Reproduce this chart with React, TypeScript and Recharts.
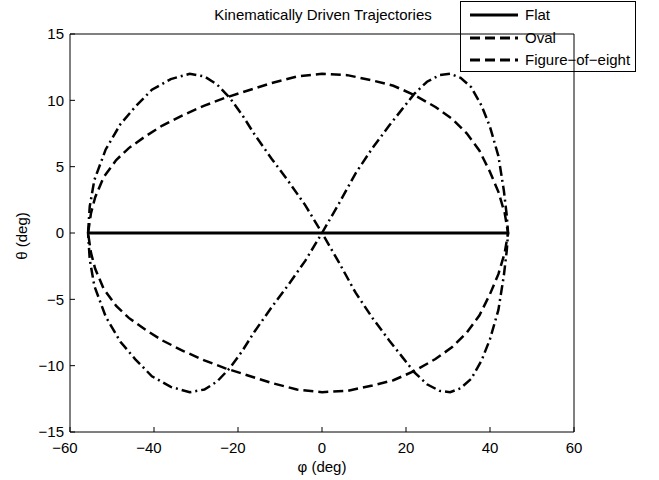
import React from 'react';
import { LineChart, Line, XAxis, YAxis, Label } from 'recharts';

const flatPhi = [-55.7, 44.3];
const flatTheta = [0, 0];

const ovalPhi = [
  -55.7, -55, -54, -52, -49, -46, -42, -38, -33, -28, -23, -18, -12, -6, 0, 6, 12, 17, 22, 27, 31, 34.5, 37.5, 40, 42, 43.5, 44.3,
  43.5, 42, 40, 37.5, 34.5, 31, 27, 22, 17, 12, 6, 0, -6, -12, -18, -23, -28, -33, -38, -42, -46, -49, -52, -54, -55, -55.7,
];
const ovalTheta = [
  0, 1.5, 2.7, 4.2, 5.5, 6.4, 7.3, 8.1, 8.9, 9.6, 10.2, 10.7, 11.3, 11.8, 12, 11.9, 11.5, 11.1, 10.4, 9.5, 8.6, 7.5, 6.2, 4.6, 3.1, 1.5, 0,
  -1.5, -3.1, -4.6, -6.2, -7.5, -8.6, -9.5, -10.4, -11.1, -11.5, -11.9, -12, -11.8, -11.3, -10.7, -10.2, -9.6, -8.9, -8.1, -7.3, -6.4, -5.5, -4.2, -2.7, -1.5, 0,
];

const eightPhi = [
  -55.7, -55.3, -54.2, -51.5, -48, -44.5, -40.5, -36, -31.5,
  -28, -25, -22, -19, -16, -12, -8, -4, 0, 4, 8, 12, 16, 19, 22, 25, 28, 30.5,
  33, 35.5, 38, 40, 42, 43.3, 44, 44.3,
  44, 43.3, 42, 40, 38, 35.5, 33, 30.5,
  28, 25, 22, 19, 16, 12, 8, 4, 0, -4, -8, -12, -16, -19, -22, -25, -28, -31.5,
  -36, -40.5, -44.5, -48, -51.5, -54.2, -55.3, -55.7,
];
const eightTheta = [
  0, 2, 4, 6.3, 8.2, 9.5, 10.8, 11.6, 12,
  11.8, 11.2, 10.2, 8.9, 7.4, 5.6, 3.9, 2.1, 0, -2.2, -4.5, -6.4, -8.1, -9.3, -10.5, -11.4, -11.9, -12,
  -11.7, -11, -9.6, -8, -5.8, -3.2, -1.3, 0,
  1.3, 3.2, 5.8, 8, 9.6, 11, 11.7, 12,
  11.9, 11.4, 10.5, 9.3, 8.1, 6.4, 4.5, 2.2, 0, -2.1, -3.9, -5.6, -7.4, -8.9, -10.2, -11.2, -11.8, -12,
  -11.6, -10.8, -9.5, -8.2, -6.3, -4, -2, 0,
];

const xTicks = [-60, -40, -20, 0, 20, 40, 60];
const yTicks = [-15, -10, -5, 0, 5, 10, 15];
const seriesNames = ['Flat', 'Oval', 'Figure\u2212of\u2212eight'];
const titleText = 'Kinematically Driven Trajectories';
const xLabelText = '\u03c6 (deg)';
const yLabelText = '\u03b8 (deg)';

const zip = (p: number[], t: number[]) => p.map((x, i) => ({ x, y: t[i] }));
const flatData = zip(flatPhi, flatTheta);
const ovalData = zip(ovalPhi, ovalTheta);
const eightData = zip(eightPhi, eightTheta);

const FONT = '"Liberation Sans", Arial, Helvetica, sans-serif';
const FS = 15;
const fmt = (v: number) => String(v).replace('-', '\u2212');

const XTick = (props: any) => {
  const { x, y, payload } = props;
  const v = payload.value as number;
  return (
    <text x={x + (v < 0 ? -5 : 0)} y={y} dy="0.71em" textAnchor="middle" fontSize={FS} fontFamily={FONT} fill="#000">
      {fmt(v)}
    </text>
  );
};

const YTick = (props: any) => {
  const { x, y, payload } = props;
  return (
    <text x={x} y={y} dy="0.355em" textAnchor="end" fontSize={FS} fontFamily={FONT} fill="#000">
      {fmt(payload.value)}
    </text>
  );
};

const LEG_X = 460.5;
const LEG_Y = 1.5;
const rows = [15, 38, 60];
const legendDash = ['', '10 5', '10 5'];

export default function App() {
  return (
    <div style={{ position: 'absolute', left: 0, top: 0, width: 659, height: 480, background: '#fff' }}>
      <LineChart width={659} height={480} margin={{ top: 29, right: 84, bottom: 0, left: 0 }} style={{ fontFamily: FONT }}>
        <XAxis
          dataKey="x"
          type="number"
          domain={[-60, 60]}
          ticks={xTicks}
          allowDataOverflow
          height={48}
          tickSize={-5}
          tickMargin={15}
          stroke="#000"
          axisLine={{ stroke: '#000', strokeWidth: 1 }}
          tickLine={{ stroke: '#000' }}
          tick={<XTick />}
        >
          <Label value={xLabelText} position="insideBottom" offset={8} fontSize={FS} fontFamily={FONT} fill="#000" />
        </XAxis>
        <XAxis
          xAxisId="top"
          orientation="top"
          dataKey="x"
          type="number"
          domain={[-60, 60]}
          ticks={xTicks}
          allowDataOverflow
          height={5}
          tickSize={-5}
          tick={false}
          stroke="#000"
          axisLine={{ stroke: '#000', strokeWidth: 1 }}
          tickLine={{ stroke: '#000' }}
        />
        <YAxis
          type="number"
          domain={[-15, 15]}
          ticks={yTicks}
          allowDataOverflow
          width={70}
          tickSize={-5}
          tickMargin={11}
          stroke="#000"
          axisLine={{ stroke: '#000', strokeWidth: 1 }}
          tickLine={{ stroke: '#000' }}
          tick={<YTick />}
        />
        <YAxis
          yAxisId="right"
          orientation="right"
          type="number"
          domain={[-15, 15]}
          ticks={yTicks}
          allowDataOverflow
          width={1}
          tickSize={-5}
          tick={false}
          stroke="#000"
          axisLine={{ stroke: '#000', strokeWidth: 1 }}
          tickLine={{ stroke: '#000' }}
        />
        <Line data={ovalData} dataKey="y" name={seriesNames[1]} stroke="#000" strokeWidth={2.5} strokeDasharray="10 5" dot={false} isAnimationActive={false} />
        <Line data={eightData} dataKey="y" name={seriesNames[2]} stroke="#000" strokeWidth={2.5} strokeDasharray="10 4 2 4" dot={false} isAnimationActive={false} />
        <Line data={flatData} dataKey="y" name={seriesNames[0]} stroke="#000" strokeWidth={3} dot={false} isAnimationActive={false} />
        <text x={323} y={20} textAnchor="middle" fontSize={FS} fontFamily={FONT} fill="#000">{titleText}</text>
        <text x={0} y={0} transform="translate(27,236) rotate(-90)" textAnchor="middle" fontSize={FS} fontFamily={FONT} fill="#000">{yLabelText}</text>
        <g>
          <rect x={LEG_X} y={LEG_Y} width={175} height={70} fill="#fff" stroke="#000" strokeWidth={1} />
          {seriesNames.map((n, i) => (
            <g key={n}>
              <line x1={470} x2={518} y1={rows[i]} y2={rows[i]} stroke="#000" strokeWidth={3} strokeDasharray={legendDash[i] || undefined} />
              <text x={525} y={rows[i]} dy="0.36em" fontSize={FS} fontFamily={FONT} fill="#000">{n}</text>
            </g>
          ))}
        </g>
      </LineChart>
    </div>
  );
}
